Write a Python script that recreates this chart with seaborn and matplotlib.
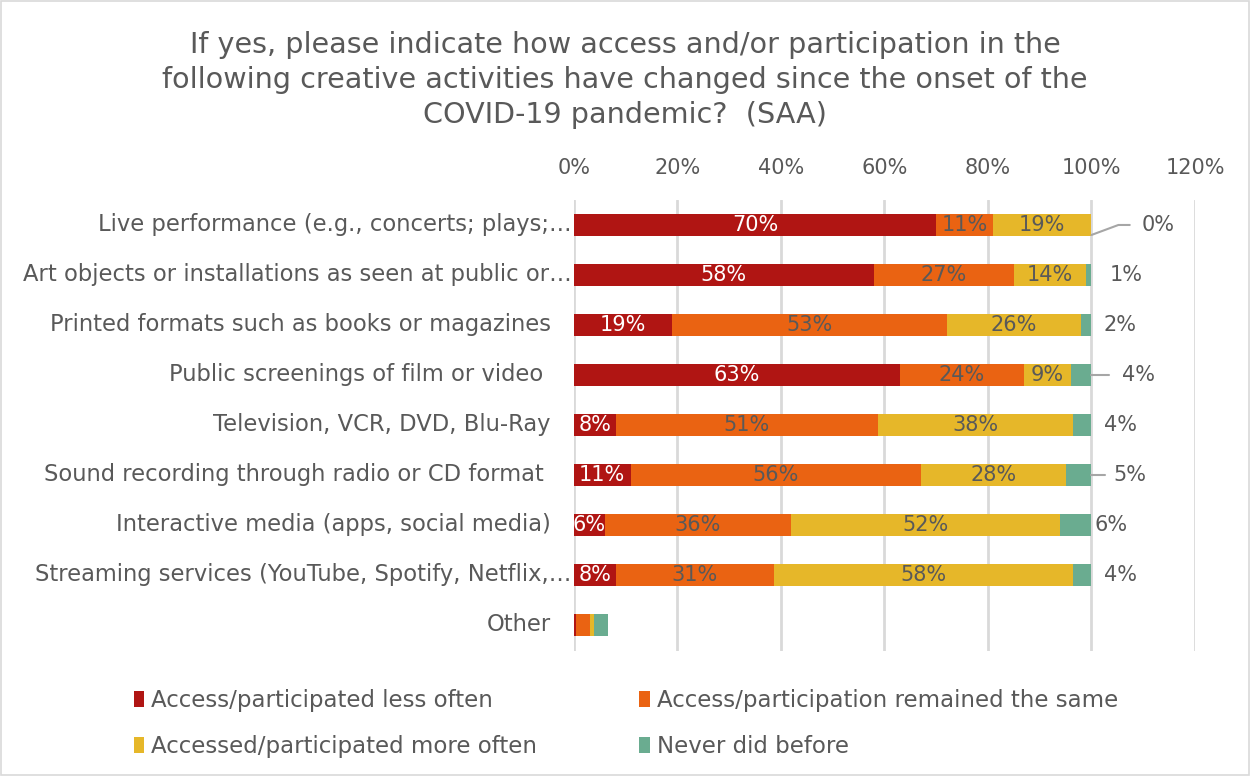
import matplotlib
matplotlib.use("Agg")
import matplotlib.pyplot as plt
from matplotlib.patches import Patch, Rectangle
import numpy as np
import pandas as pd
import seaborn as sns

# Survey answers (percent of respondents)
categories = [
    "Live performance (e.g., concerts; plays;…",
    "Art objects or installations as seen at public or…",
    "Printed formats such as books or magazines",
    "Public screenings of film or video ",
    "Television, VCR, DVD, Blu-Ray",
    "Sound recording through radio or CD format ",
    "Interactive media (apps, social media)",
    "Streaming services (YouTube, Spotify, Netflix,…",
    "Other",
]
less_often = [70, 58, 19, 63, 8.1, 11, 6, 8.1, 0.4]
same = [11, 27, 53, 24, 50.7, 56, 36, 30.6, 2.7]
more_often = [19, 14, 26, 9, 37.6, 28, 52, 57.8, 0.9]
never_before = [0, 1, 2, 4, 3.6, 5, 6, 3.5, 2.7]

series_names = [
    "Access/participated less often",
    "Access/participation remained the same",
    "Accessed/participated more often",
    "Never did before",
]
colors = ["#B01513", "#EA6312", "#E6B729", "#6AAC90"]
x_ticks = [0, 20, 40, 60, 80, 100, 120]

TEXT = "#595959"
sns.set_theme(style="white")
plt.rcParams["font.family"] = ["DejaVu Sans"]

df = pd.DataFrame({
    "category": categories,
    "less": less_often,
    "same": same,
    "more": more_often,
    "never": never_before,
})
cols = ["less", "same", "more", "never"]
cum = df[cols].cumsum(axis=1)
cum["category"] = df["category"]

fig = plt.figure(figsize=(12.5, 7.76), dpi=100)
ax = fig.add_axes([0.459, 0.1611, 0.497, 0.5812])

# stacked bars: draw cumulative totals from the widest down
for col, c in zip(reversed(cols), reversed(colors)):
    sns.barplot(data=cum, x=col, y="category", color=c, width=0.44, orient="h",
                ax=ax, saturation=1, linewidth=0, order=categories)

ax.set_xlim(0, 120)
ax.set_ylim(8.52, -0.5)
ax.set_xticks(x_ticks)
ax.set_xticklabels([f"{t}%" for t in x_ticks])
ax.xaxis.tick_top()
ax.tick_params(axis="x", length=0, pad=16, labelsize=15, labelcolor=TEXT)
ax.set_yticks(range(len(categories)))
ax.set_yticklabels([])
ax.tick_params(axis="y", length=0)
ax.set_xlabel("")
ax.set_ylabel("")
ax.grid(axis="x", color="#D9D9D9", linewidth=2)
ax.set_axisbelow(True)
for s in ax.spines.values():
    s.set_visible(False)

# category names; truncated names run right up to the axis
ytrans = ax.get_yaxis_transform()
for i, name in enumerate(categories):
    xr = -0.004 if name.endswith("…") else -0.037
    ax.text(xr, i, name, transform=ytrans, ha="right", va="center",
            fontsize=16.3, color=TEXT)

# segment labels for the first eight rows
label_fs = 15
for i in range(8):
    starts = [0] + list(cum.loc[i, cols[:3]])
    for j, col in enumerate(cols[:3]):
        v = df.loc[i, col]
        xc = starts[j] + v / 2
        ax.text(xc, i, f"{v:.0f}%", ha="center", va="center", fontsize=label_fs,
                color="white" if j == 0 else TEXT)

# "never did before" labels sit beside the bar
never_label_x = [112.8, 106.8, 105.6, 109.1, 105.6, 107.4, 103.7, 105.6]
for i in range(8):
    ax.text(never_label_x[i], i, f"{df.loc[i, 'never']:.0f}%", ha="center",
            va="center", fontsize=label_fs, color=TEXT)
# leader lines
ax.plot([100, 105.2, 107.4], [0.2, 0.0, 0.0], color="#A6A6A6", lw=1.5, clip_on=False)
ax.plot([100, 103.3], [3, 3], color="#A6A6A6", lw=1.5, clip_on=False)
ax.plot([100, 102.7], [5, 5], color="#A6A6A6", lw=1.5, clip_on=False)

fig.text(0.5, 0.897,
         "If yes, please indicate how access and/or participation in the\n"
         "following creative activities have changed since the onset of the\n"
         "COVID-19 pandemic?  (SAA)",
         ha="center", va="center", fontsize=20.6, color=TEXT, linespacing=1.3)

# legend filled row by row
order = [0, 2, 1, 3]
handles = [Patch(facecolor=colors[k], edgecolor="none") for k in order]
labels = [series_names[k] for k in order]
fig.legend(handles, labels, loc="upper left", bbox_to_anchor=(0.1, 0.124),
           ncol=2, frameon=False, fontsize=16.5, labelcolor=TEXT,
           handlelength=0.45, handleheight=0.7, handletextpad=0.3,
           columnspacing=4.45, labelspacing=1.0, borderaxespad=0)

fig.patches.append(Rectangle((0.001, 0.001), 0.998, 0.998, transform=fig.transFigure,
                             fill=False, edgecolor="#D9D9D9", linewidth=1.2))

fig.savefig("out.png", dpi=100, facecolor="white")
